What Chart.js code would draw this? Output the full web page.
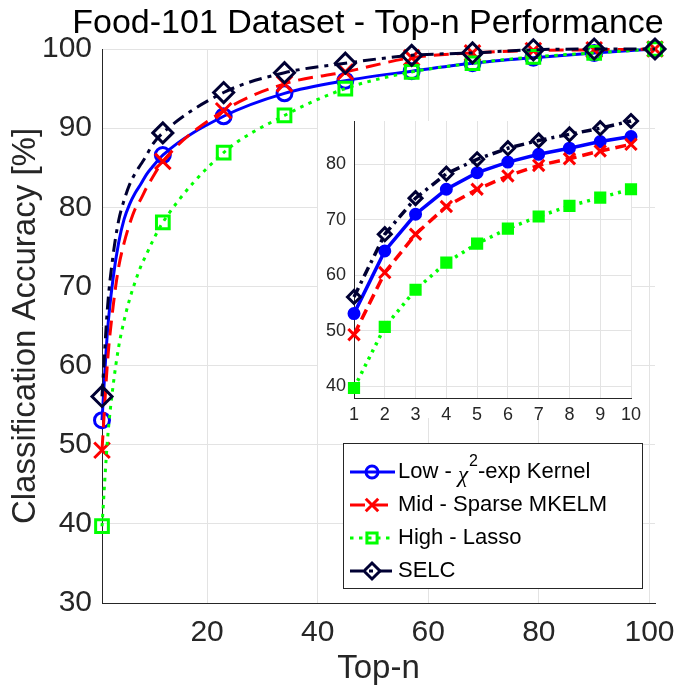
<!DOCTYPE html>
<html>
<head>
<meta charset="utf-8">
<script src="https://cdn.jsdelivr.net/npm/chart.js@4/dist/chart.umd.min.js"></script>
<style>
  html, body { margin: 0; padding: 0; background: #fff; }
  #wrap { position: relative; width: 675px; height: 689px; }
  #mainChart { position: absolute; left: 0; top: 0; }
  #insetChart { position: absolute; left: 318px; top: 108px; }
</style>
</head>
<body>
<div id="wrap">
  <canvas id="mainChart" width="675" height="689"></canvas>
  <canvas id="insetChart" width="330" height="312"></canvas>
</div>
<script>
// data
const insetN = [1, 2, 3, 4, 5, 6, 7, 8, 9, 10];
const markerN = [12, 23, 34, 45, 57, 68, 79, 90, 101];

const lowInset  = [53.1, 64.4, 71.0, 75.5, 78.5, 80.4, 81.8, 82.9, 84.1, 85.0];
const midInset  = [49.3, 60.5, 67.4, 72.4, 75.5, 77.9, 79.8, 81.0, 82.4, 83.6];
const highInset = [39.7, 50.7, 57.4, 62.3, 65.7, 68.4, 70.6, 72.5, 74.0, 75.5];
const selcInset = [56.1, 67.4, 73.9, 78.3, 80.9, 82.9, 84.3, 85.4, 86.5, 87.8];

const lowMain  = [86.6, 91.5, 94.4, 96.0, 97.2, 98.2, 98.9, 99.5, 100];
const midMain  = [85.8, 92.2, 95.6, 97.1, 98.9, 99.5, 99.8, 99.9, 100];
const highMain = [78.1, 86.9, 91.6, 95.0, 97.1, 98.2, 99.0, 99.5, 100];
const selcMain = [89.4, 94.5, 97.0, 98.2, 99.2, 99.5, 99.9, 100, 100];

const seriesNames = ["Low - χ²-exp Kernel", "Mid - Sparse MKELM", "High - Lasso", "SELC"];
const xTicks = [20, 40, 60, 80, 100];
const insetYTicks = [40, 50, 60, 70, 80];

const titleText = "Food-101 Dataset - Top-n Performance";
const xLabel = "Top-n";
const yLabel = "Classification Accuracy [%]";

const FONT = "'Liberation Sans', Arial, Helvetica, sans-serif";
const AXIS = "#262626";
const GRID = "#e3e3e3";

const styles = [
  { color: "#0000ff", dash: [], idash: [], pt: "circle", r: 7.5, ri: 5, fill: true },
  { color: "#ff0000", dash: [15, 8], idash: [11, 6], pt: "crossRot", r: 11, ri: 8, fill: false },
  { color: "#00ff00", dash: [3.5, 5.5], idash: [3, 5], pt: "rect", r: 9, ri: 6.5, fill: true },
  { color: "#000033", dash: [13, 6, 4, 6], idash: [10, 5, 3, 5], pt: "rectRot", r: 10, ri: 6.5, fill: false }
];
const drawOrder = [3, 2, 1, 0];

const mainN = insetN.concat(markerN);
const mainSeries = [
  lowInset.concat(lowMain), midInset.concat(midMain),
  highInset.concat(highMain), selcInset.concat(selcMain)
];
const insetSeries = [lowInset, midInset, highInset, selcInset];

Chart.defaults.font.family = FONT;
Chart.defaults.animation = false;

const mainDatasets = mainSeries.map((vals, i) => ({
  label: seriesNames[i],
  data: mainN.map((n, k) => ({ x: n, y: vals[k] })),
  borderColor: styles[i].color,
  borderWidth: 3,
  borderDash: styles[i].dash,
  pointStyle: styles[i].pt,
  pointRadius: ctx => (ctx.dataIndex === 0 || ctx.dataIndex >= insetN.length) ? styles[i].r : 0,
  pointBorderWidth: 3,
  pointBorderColor: styles[i].color,
  pointBackgroundColor: "rgba(0,0,0,0)",
  cubicInterpolationMode: "monotone",
  fill: false,
  clip: false,
  order: drawOrder[i]
}));

const legendPlugin = {
  id: "boxLegend",
  afterDraw(chart) {
    const ctx = chart.ctx;
    ctx.save();
    ctx.fillStyle = "#fff";
    ctx.fillRect(343, 443, 299, 145);
    ctx.strokeStyle = AXIS;
    ctx.lineWidth = 1;
    ctx.strokeRect(343.5, 443.5, 299, 145);
    chart.data.datasets.forEach((ds, i) => {
      const y = 472 + i * 33;
      const st = styles[i];
      ctx.strokeStyle = st.color;
      ctx.lineWidth = 3;
      ctx.setLineDash(st.dash);
      ctx.beginPath();
      ctx.moveTo(350, y);
      ctx.lineTo(395, y);
      ctx.stroke();
      ctx.setLineDash([]);
      ctx.fillStyle = "rgba(0,0,0,0)";
      Chart.helpers.drawPoint(ctx, { pointStyle: st.pt, radius: st.r * 0.8, borderWidth: 3, rotation: 0 }, 372, y);
      ctx.fillStyle = "#000";
      ctx.textBaseline = "middle";
      ctx.textAlign = "left";
      let x = 398;
      const parts = ds.label.split("χ²");
      ctx.font = "22px " + FONT;
      ctx.fillText(parts[0], x, y);
      x += ctx.measureText(parts[0]).width;
      if (parts.length > 1) {
        ctx.font = "italic 23px 'Liberation Serif', 'DejaVu Serif', serif";
        ctx.fillText("χ", x, y + 4);
        x += ctx.measureText("χ").width + 1;
        ctx.font = "16px " + FONT;
        ctx.fillText("2", x, y - 10);
        x += ctx.measureText("2").width;
        ctx.font = "22px " + FONT;
        ctx.fillText(parts[1], x, y);
      }
    });
    // title
    ctx.fillStyle = "#000";
    ctx.font = "34px " + FONT;
    ctx.textAlign = "center";
    ctx.textBaseline = "alphabetic";
    ctx.fillText(titleText, 368, 33);
    ctx.restore();
  }
};

new Chart(document.getElementById("mainChart"), {
  type: "line",
  data: { datasets: mainDatasets },
  options: {
    responsive: false,
    devicePixelRatio: 1,
    events: [],
    layout: { padding: { top: 49, right: 20, left: 0, bottom: 0 } },
    plugins: { legend: { display: false }, tooltip: { enabled: false } },
    scales: {
      x: {
        type: "linear", min: 1, max: 101,
        afterBuildTicks: s => { s.ticks = xTicks.map(v => ({ value: v })); },
        afterFit: s => { s.height = 86; s.paddingLeft = 0; s.paddingRight = 0; },
        grid: { color: GRID, drawTicks: false },
        border: { color: AXIS, width: 1 },
        ticks: { color: AXIS, font: { size: 30 }, padding: 12 },
        title: { display: true, text: xLabel, color: AXIS, font: { size: 33 }, padding: 0 }
      },
      y: {
        type: "linear", min: 30, max: 100,
        afterFit: s => { s.width = 102; s.paddingTop = 0; s.paddingBottom = 0; },
        grid: { color: GRID, drawTicks: false },
        border: { color: AXIS, width: 1 },
        ticks: { color: AXIS, font: { size: 30 }, padding: 10, stepSize: 10 },
        title: { display: true, text: yLabel, color: AXIS, font: { size: 33 }, padding: { top: 6, bottom: 0 } }
      }
    }
  },
  plugins: [legendPlugin]
});

const insetBg = {
  id: "insetBg",
  beforeDraw(chart) {
    const ctx = chart.ctx;
    ctx.save();
    ctx.fillStyle = "#fff";
    ctx.fillRect(0, 13, 313, 297);
    ctx.restore();
  }
};

new Chart(document.getElementById("insetChart"), {
  type: "line",
  data: {
    datasets: insetSeries.map((vals, i) => ({
      label: seriesNames[i],
      data: insetN.map((n, k) => ({ x: n, y: vals[k] })),
      borderColor: styles[i].color,
      borderWidth: 3.5,
      borderDash: styles[i].idash,
      pointStyle: styles[i].pt,
      pointRadius: styles[i].ri,
      pointBorderWidth: 3,
      pointBorderColor: styles[i].color,
      pointBackgroundColor: styles[i].fill ? styles[i].color : "rgba(0,0,0,0)",
      tension: 0,
      fill: false,
      clip: false,
      order: drawOrder[i]
    }))
  },
  options: {
    responsive: false,
    devicePixelRatio: 1,
    events: [],
    layout: { padding: { top: 13, right: 17, left: 0, bottom: 0 } },
    plugins: { legend: { display: false }, tooltip: { enabled: false } },
    scales: {
      x: {
        type: "linear", min: 1, max: 10,
        afterBuildTicks: s => { s.ticks = insetN.map(v => ({ value: v })); },
        afterFit: s => { s.height = 22; s.paddingLeft = 0; s.paddingRight = 0; },
        grid: { color: GRID, drawTicks: false },
        border: { color: AXIS, width: 1 },
        ticks: { color: AXIS, font: { size: 18 }, padding: 6 }
      },
      y: {
        type: "linear", min: 37.9, max: 87.8,
        afterBuildTicks: s => { s.ticks = insetYTicks.map(v => ({ value: v })); },
        afterFit: s => { s.width = 36; s.paddingTop = 0; s.paddingBottom = 0; },
        grid: { color: GRID, drawTicks: false },
        border: { color: AXIS, width: 1 },
        ticks: { color: AXIS, font: { size: 18 }, padding: 8 }
      }
    }
  },
  plugins: [insetBg]
});
</script>
</body>
</html>
